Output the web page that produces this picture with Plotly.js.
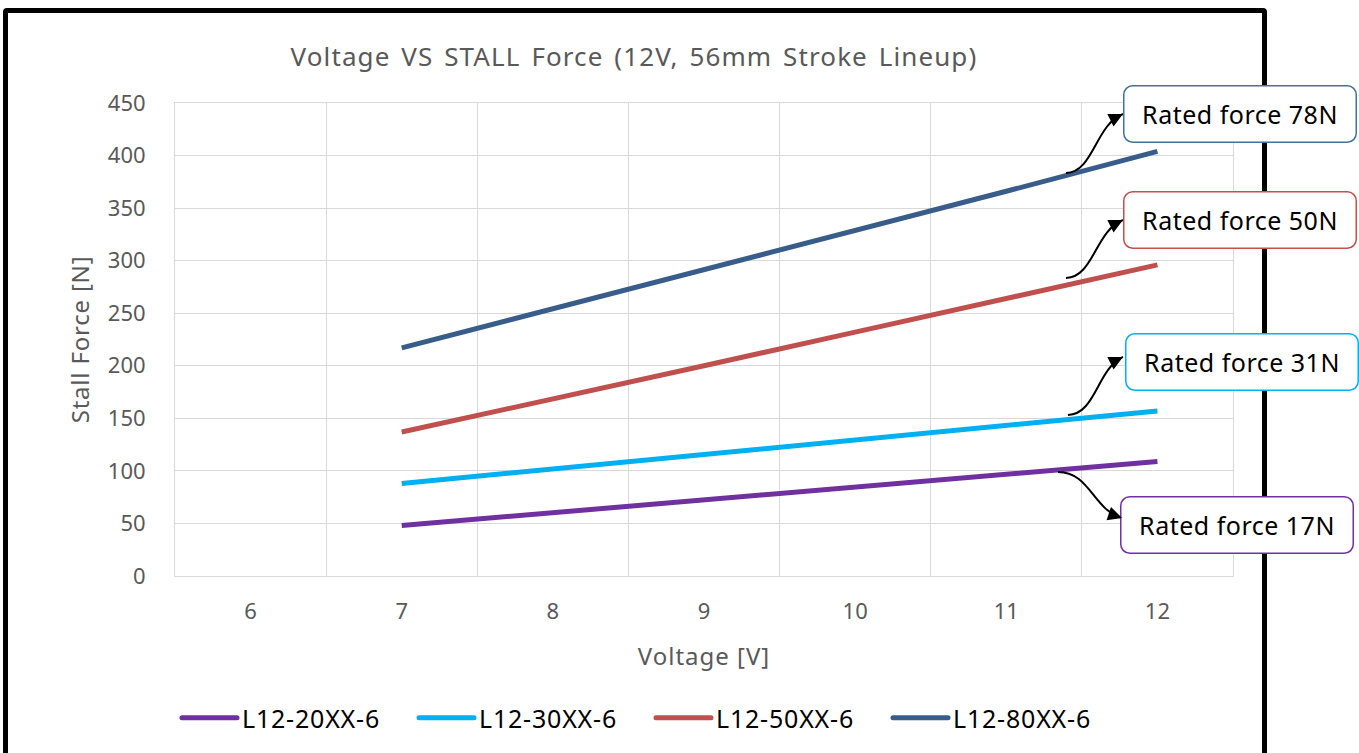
<!DOCTYPE html>
<html><head><meta charset="utf-8">
<script src="https://cdn.plot.ly/plotly-3.0.1.min.js"></script>
<style>
html,body{margin:0;padding:0;background:#fff;overflow:hidden}
#frame{position:absolute;left:3px;top:8px;width:1264px;height:800px;border:5px solid #000;border-radius:4px;box-sizing:border-box}
#chart{position:absolute;left:0;top:0;width:1359px;height:753px}
.gtitle{letter-spacing:1.1px;word-spacing:3px}
.xtitle{letter-spacing:1px}
.ytitle{letter-spacing:0.8px}
.legendtext{letter-spacing:0.8px}
.annotation-text{letter-spacing:0.5px}
</style></head>
<body>
<div id="frame"></div>
<div id="chart"></div>
<script>
const voltage = [6, 7, 8, 9, 10, 11, 12];
const seriesNames = ['L12-20XX-6', 'L12-30XX-6', 'L12-50XX-6', 'L12-80XX-6'];
const force20 = [null, 48, 60, 72, 85, 97, 109];
const force30 = [null, 88, 102, 116, 130, 143, 157];
const force50 = [null, 137, 168, 200, 232, 264, 296];
const force80 = [null, 217, 254, 291, 329, 366, 404];
const seriesColors = ['#7030A0', '#00B0F0', '#C0504D', '#385D8A'];
const yTicks = [0, 50, 100, 150, 200, 250, 300, 350, 400, 450];
const calloutTexts = ['Rated force 78N', 'Rated force 50N', 'Rated force 31N', 'Rated force 17N'];
const calloutColors = ['#41719C', '#C0504D', '#00B0F0', '#7030A0'];

const allForces = [force20, force30, force50, force80];
const traces = allForces.map((f, i) => ({
  x: voltage, y: f, type: 'scatter', mode: 'lines', name: seriesNames[i],
  line: {color: seriesColors[i], width: 5}, connectgaps: false, hoverinfo: 'skip'
}));

const font = '"Noto Sans", "Open Sans", sans-serif';

// callout boxes (paper coordinates)
const boxPos = [[1.007, 0.9757], [1.007, 0.7526], [1.0085, 0.4514], [1.0038, 0.1078]];
const annotations = calloutTexts.map((t, i) => ({
  text: t, xref: 'paper', yref: 'paper', x: boxPos[i][0], y: boxPos[i][1],
  xanchor: 'center', yanchor: 'middle', showarrow: false,
  font: {family: font, size: 25, color: '#000'},
  bgcolor: '#fff', bordercolor: calloutColors[i], borderwidth: 1.5, borderpad: 0,
  width: 231, height: 55
}));

// curved connector arrows (data coordinates)
const curves = [
  [[11.395, 383.4], [11.580, 384.4], [11.587, 429.1], [11.772, 439.5], -12, 6],
  [[11.395, 283.5], [11.580, 284.5], [11.587, 328.2], [11.772, 338.7], -12, 6],
  [[11.408, 153.2], [11.594, 154.1], [11.600, 196.9], [11.772, 208.4], -12, 6],
  [[11.342, 98.9], [11.554, 98.9], [11.574, 62.8], [11.766, 55.2], -12, -4]
];
const shapes = curves.map(c => ({
  type: 'path', xref: 'x', yref: 'y', layer: 'above',
  path: `M ${c[0][0]},${c[0][1]} C ${c[1][0]},${c[1][1]} ${c[2][0]},${c[2][1]} ${c[3][0]},${c[3][1]}`,
  line: {color: '#000', width: 2}
}));
curves.forEach(c => annotations.push({
  text: ' ', x: c[3][0], y: c[3][1], xref: 'x', yref: 'y', showarrow: true,
  axref: 'pixel', ayref: 'pixel', ax: c[4], ay: c[5],
  arrowhead: 2, arrowsize: 1.4, arrowwidth: 2, arrowcolor: '#000', standoff: 0, startstandoff: 0,
  font: {size: 2}
}));

const layout = {
  width: 1359, height: 753,
  margin: {l: 175, r: 126, t: 103, b: 177, autoexpand: false},
  paper_bgcolor: 'rgba(0,0,0,0)', plot_bgcolor: '#fff',
  title: {text: 'Voltage VS STALL Force (12V, 56mm Stroke Lineup)', font: {family: font, size: 26, color: '#595959'},
          xref: 'container', yref: 'container', x: 634 / 1359, y: 1 - 57 / 753, xanchor: 'center', yanchor: 'middle'},
  xaxis: {range: [5.5, 12.5], tickvals: voltage, ticktext: voltage.map(String), showgrid: false,
          minor: {tick0: 5.5, dtick: 1, showgrid: true, gridcolor: '#D9D9D9', gridwidth: 1, ticks: ''},
          showline: true, mirror: true, linecolor: '#D9D9D9', linewidth: 1, zeroline: false, ticks: '',
          ticklabelstandoff: 16, automargin: false,
          tickfont: {family: font, size: 22, color: '#595959'},
          title: {text: 'Voltage [V]', font: {family: font, size: 24, color: '#595959'}, standoff: 23}},
  yaxis: {range: [0, 450], tickvals: yTicks, showgrid: true, gridcolor: '#D9D9D9', gridwidth: 1,
          showline: true, mirror: true, linecolor: '#D9D9D9', linewidth: 1, zeroline: false, ticks: '',
          ticklabelstandoff: 24, automargin: false,
          tickfont: {family: font, size: 22, color: '#595959'},
          title: {text: 'Stall Force [N]', font: {family: font, size: 24, color: '#595959'}, standoff: 11}},
  legend: {orientation: 'h', xref: 'container', x: 202 / 1359, xanchor: 'left', yref: 'container', y: 1 - 718 / 753, yanchor: 'middle',
           font: {family: font, size: 25, color: '#000'}, entrywidth: 192, bgcolor: 'rgba(0,0,0,0)'},
  showlegend: true,
  annotations: annotations,
  shapes: shapes
};

Plotly.newPlot('chart', traces, layout, {displayModeBar: false, staticPlot: true}).then(gd => {
  gd.querySelectorAll('g.annotation rect.bg').forEach(r => { r.setAttribute('rx', 9); r.setAttribute('ry', 9); });
  gd.querySelectorAll('g.legend path.js-line').forEach(p => { p.setAttribute('d', 'M-20,0h55'); p.style.strokeLinecap = 'round'; });
  gd.querySelectorAll('g.legend [clip-path]').forEach(g => g.removeAttribute('clip-path'));
});
</script>
</body></html>
